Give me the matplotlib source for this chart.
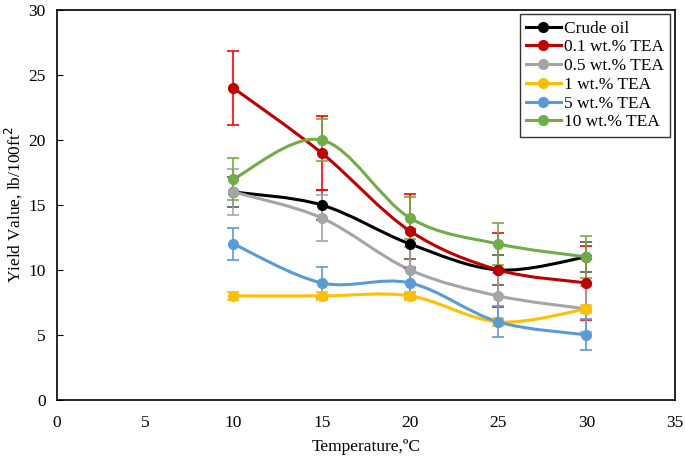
import numpy as np
import matplotlib
matplotlib.use("Agg")
import matplotlib.pyplot as plt
from matplotlib.path import Path
from matplotlib.patches import PathPatch

plt.rcParams['font.family'] = ['Liberation Serif', 'DejaVu Serif']

temps = [10, 15, 20, 25, 30]
names = ["Crude oil", "0.1 wt.% TEA", "0.5 wt.% TEA", "1 wt.% TEA", "5 wt.% TEA", "10 wt.% TEA"]
crude = [16, 15, 12, 10, 11]
tea01 = [24, 19, 13, 10, 9]
tea05 = [16, 14, 10, 8, 7]
tea1 = [8, 8, 8, 6, 7]
tea5 = [12, 9, 9, 6, 5]
tea10 = [17, 20, 14, 12, 11]
errs = [1.15, 2.85, 1.75, 0.3, 1.2, 1.6]
series = [crude, tea01, tea05, tea1, tea5, tea10]
colors = ["#000000", "#C00000", "#A5A5A5", "#FFC000", "#5B9BD5", "#70AD47"]
err_colors = ["#595959", "#FF0000", "#A5A5A5", "#FFC000", "#5B9BD5", "#70AD47"]


def smooth_path(x, y):
    # Catmull-Rom style bezier, like Excel's smoothed line
    x = np.asarray(x, float)
    y = np.asarray(y, float)
    pts = np.column_stack([x, y])
    verts = [pts[0]]
    codes = [Path.MOVETO]
    n = len(pts)
    for i in range(n - 1):
        p0 = pts[i - 1] if i > 0 else pts[i]
        p1 = pts[i]
        p2 = pts[i + 1]
        p3 = pts[i + 2] if i + 2 < n else pts[i + 1]
        c1 = p1 + (p2 - p0) / 6.0
        c2 = p2 - (p3 - p1) / 6.0
        verts += [c1, c2, p2]
        codes += [Path.CURVE4] * 3
    return Path(verts, codes)


fig = plt.figure(figsize=(6.85, 4.58), dpi=100)
ax = fig.add_axes([0.083, 0.127, 0.902, 0.851])

for name, vals, c, ec, e in zip(names, series, colors, err_colors, errs):
    ax.add_patch(PathPatch(smooth_path(temps, vals), facecolor="none",
                           edgecolor=c, lw=2.2, zorder=2))
    ax.errorbar(temps, vals, yerr=e, fmt="none", ecolor=ec, elinewidth=1.2,
                capsize=4, capthick=1.2, zorder=3)
    ax.plot(temps, vals, "o", color=c, ms=7, zorder=4)
    ax.plot([], [], "-o", color=c, lw=2.2, ms=7, label=name)

ax.set_xlim(0, 35)
ax.set_ylim(0, 30)
ax.set_xticks(range(0, 36, 5))
ax.set_yticks(range(0, 31, 5))
ax.tick_params(axis="x", length=0, labelsize=12.5, pad=11)
ax.tick_params(axis="y", direction="in", length=4, labelsize=12.5, pad=8)
for s in ax.spines.values():
    s.set_color("black")
    s.set_linewidth(1.2)

ax.set_xlabel("Temperature,ºC", fontsize=12.5, labelpad=6)
ax.set_ylabel("Yield Value, lb/100ft$^2$", fontsize=12.5, labelpad=3)

leg = ax.legend(loc="upper right", fontsize=12.5, frameon=True, fancybox=False,
                edgecolor="black", handlelength=2.0, handletextpad=0.2,
                labelspacing=0.15, borderpad=0.35, borderaxespad=0.25)
leg.get_frame().set_linewidth(1.0)

fig.savefig("out.png", dpi=100)
